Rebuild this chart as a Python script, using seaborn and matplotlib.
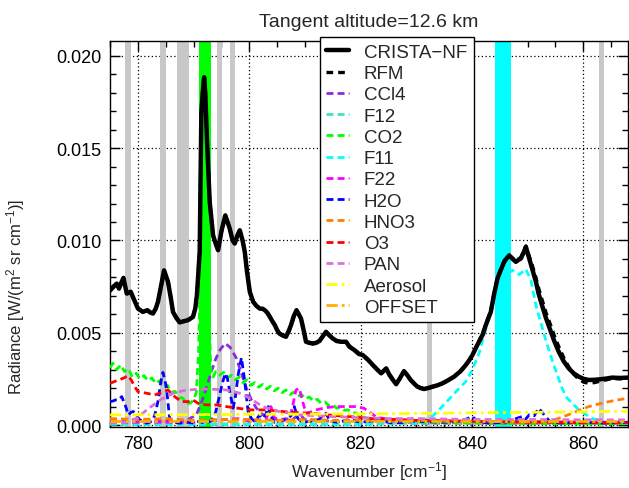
import numpy as np
import pandas as pd
import seaborn as sns
import matplotlib.pyplot as plt
from matplotlib.ticker import MultipleLocator, FormatStrFormatter

# Radiance values below are in units of 1e-3 W/(m2 sr cm-1)

crista_wn = [775.0, 775.6, 776.2, 776.6, 777.0, 777.4, 778.0, 778.7, 779.3, 780.0,
             780.9, 781.7, 782.2, 782.7, 783.2, 783.6, 784.2, 784.7, 785.4, 785.9,
             786.3, 786.9, 787.5, 788.2, 789.0, 789.9, 790.3, 790.6, 791.1, 791.4,
             791.7, 791.9, 792.1, 792.4, 792.9, 793.5, 794.0, 794.4, 795.0, 795.7,
             796.1, 796.5, 797.0, 797.4, 797.9, 798.3, 798.8, 799.2, 799.6, 800.1,
             800.7, 801.3, 801.9, 802.4, 802.8, 803.2, 803.7, 804.2, 804.6, 805.0,
             805.4, 806.0, 806.6, 807.1, 807.5, 808.0, 808.5, 808.9, 809.3, 809.8,
             810.2, 810.8, 811.4, 812.0, 812.6, 813.2, 813.8, 814.4, 815.0, 815.7,
             816.5, 817.4, 818.0, 818.9, 819.7, 820.4, 821.3, 822.2, 823.0, 823.7,
             824.2, 824.6, 825.2, 825.8, 826.4, 827.1, 827.8, 828.4, 829.0, 829.6,
             830.2, 830.8, 831.4, 832.1, 832.9, 833.8, 834.7, 835.7, 836.8, 837.9,
             838.9, 839.5, 840.1, 841.0, 841.9, 842.6, 843.4, 844.0, 844.6, 845.2,
             845.8, 846.3, 846.7, 847.3, 847.9, 848.4, 848.8, 849.3, 849.7, 850.3,
             850.9, 851.5, 852.0, 852.6, 853.3, 854.1, 854.8, 855.6, 856.5, 857.4,
             858.3, 859.2, 860.1, 861.0, 862.0, 863.1, 864.2, 865.2, 866.6, 868.0]
crista_rad = [7.30, 7.50, 7.66, 7.39, 7.70, 7.97, 7.12, 7.22, 6.80, 6.31,
              6.13, 6.22, 6.10, 6.04, 6.30, 6.67, 7.60, 8.38, 7.76, 6.90,
              6.13, 5.80, 5.56, 5.62, 5.68, 5.86, 6.30, 7.03, 9.38, 16.95,
              18.20, 18.84, 18.00, 15.50, 12.08, 10.28, 9.80, 9.47, 10.50, 11.36,
              11.00, 10.64, 10.00, 9.83, 10.30, 10.55, 10.00, 9.38, 8.30, 7.22,
              6.68, 6.45, 6.31, 6.30, 6.22, 6.10, 5.86, 5.60, 5.41, 5.15,
              4.96, 4.85, 4.78, 5.10, 5.41, 5.90, 6.22, 6.00, 5.77, 5.10,
              4.51, 4.45, 4.42, 4.45, 4.55, 4.80, 5.05, 4.85, 4.69, 4.55,
              4.51, 4.51, 4.24, 4.06, 3.85, 3.79, 3.55, 3.25, 3.00, 2.80,
              2.95, 3.07, 2.71, 2.45, 2.21, 2.55, 2.92, 2.70, 2.44, 2.25,
              2.08, 2.00, 1.95, 2.00, 2.08, 2.15, 2.26, 2.42, 2.62, 2.90,
              3.25, 3.50, 3.79, 4.35, 4.87, 5.50, 6.13, 7.10, 7.94, 8.40,
              8.84, 9.05, 9.19, 9.00, 8.84, 8.95, 9.02, 9.35, 9.65, 9.02,
              8.40, 7.76, 7.10, 6.49, 5.80, 5.14, 4.55, 3.97, 3.45, 3.07,
              2.80, 2.62, 2.50, 2.44, 2.45, 2.48, 2.52, 2.57, 2.55, 2.57]
rfm_rad = [7.25, 7.45, 7.60, 7.42, 7.65, 7.90, 7.15, 7.18, 6.78, 6.35,
           6.10, 6.18, 6.12, 6.08, 6.28, 6.70, 7.55, 8.30, 7.80, 6.95,
           6.15, 5.85, 5.60, 5.60, 5.70, 5.90, 6.35, 7.10, 9.50, 17.10,
           18.40, 18.95, 18.10, 15.60, 12.10, 10.30, 9.85, 9.50, 10.45, 11.30,
           11.05, 10.60, 10.05, 9.85, 10.25, 10.50, 10.05, 9.40, 8.35, 7.25,
           6.70, 6.42, 6.30, 6.28, 6.20, 6.12, 5.90, 5.62, 5.40, 5.18,
           4.98, 4.88, 4.80, 5.05, 5.38, 5.85, 6.18, 6.02, 5.75, 5.12,
           4.55, 4.48, 4.40, 4.42, 4.52, 4.78, 5.00, 4.88, 4.70, 4.58,
           4.50, 4.48, 4.28, 4.08, 3.88, 3.75, 3.52, 3.28, 3.02, 2.82,
           2.92, 3.05, 2.75, 2.48, 2.25, 2.52, 2.88, 2.72, 2.46, 2.28,
           2.10, 2.02, 1.97, 1.98, 2.05, 2.12, 2.24, 2.40, 2.60, 2.88,
           3.22, 3.48, 3.80, 4.38, 4.92, 5.55, 6.20, 7.15, 7.98, 8.45,
           8.90, 9.10, 9.20, 9.05, 8.90, 9.00, 9.08, 9.40, 9.70, 9.15,
           8.60, 8.00, 7.40, 6.80, 6.10, 5.45, 4.85, 4.25, 3.65, 3.15,
           2.75, 2.48, 2.32, 2.26, 2.30, 2.38, 2.45, 2.52, 2.50, 2.55]

co2_wn = [775.0, 775.5, 776.2, 776.9, 777.6, 778.3, 779.0, 779.7, 780.4, 781.1,
          781.8, 782.5, 783.2, 783.9, 784.6, 785.3, 786.0, 786.7, 787.4, 788.1,
          788.8, 789.5, 790.1, 790.5, 790.9, 791.3, 791.6, 791.9, 792.2, 792.5,
          792.8, 793.1, 793.5, 794.0, 794.7, 795.4, 796.1, 796.8, 797.5, 798.2,
          798.9, 799.6, 800.3, 801.0, 801.7, 802.4, 803.1, 803.8, 804.5, 805.2,
          805.9, 806.6, 807.3, 808.0, 808.7, 809.4, 810.1, 810.8, 811.5, 812.2,
          812.9, 813.6, 814.3, 815.0, 815.7, 816.4, 817.1, 817.8, 818.5, 819.2,
          820.0, 821.0, 822.5, 825.0, 830.0, 840.0, 850.0, 860.0, 868.0]
co2_rad = [3.10, 3.35, 3.00, 3.25, 2.90, 3.05, 2.60, 2.80, 2.50, 2.68,
           2.40, 2.55, 2.25, 2.40, 2.05, 2.15, 1.78, 1.82, 1.50, 1.45,
           1.15, 1.20, 1.40, 1.80, 4.00, 10.00, 16.00, 18.60, 17.00, 12.00,
           6.00, 3.00, 2.60, 2.90, 2.70, 2.85, 2.55, 2.70, 2.45, 2.60,
           2.30, 2.45, 2.15, 2.30, 2.05, 2.20, 1.95, 2.10, 1.85, 2.00,
           1.75, 1.90, 1.65, 1.78, 1.55, 1.65, 1.42, 1.52, 1.30, 1.40,
           1.18, 1.25, 1.05, 1.10, 0.92, 0.95, 0.80, 0.82, 0.68, 0.65,
           0.50, 0.38, 0.30, 0.22, 0.15, 0.10, 0.08, 0.07, 0.07]

ccl4_wn = [775, 778, 781, 784, 787, 789, 790.5, 791.7, 792.5, 793.2, 794.0, 794.8,
           795.7, 796.6, 797.7, 798.6, 799.5, 800.4, 801.3, 802.2, 803.1, 805,
           808, 809, 810, 815, 820, 830, 845, 868]
ccl4_rad = [0.30, 0.30, 0.25, 0.20, 0.20, 0.30, 0.55, 1.45, 2.20, 2.89, 3.60, 4.10,
            4.42, 4.20, 3.61, 2.80, 1.99, 1.35, 0.91, 0.62, 0.46, 0.30,
            0.35, 0.60, 0.30, 0.20, 0.15, 0.10, 0.10, 0.10]

f12_wn = [775, 800, 820, 835, 845, 850, 860, 868]
f12_rad = [0.05, 0.05, 0.05, 0.10, 0.15, 0.15, 0.10, 0.10]

f11_wn = [775, 800, 820, 830, 832.9, 834.5, 835.9, 837.7, 838.9, 840.1, 841.3,
          842.5, 844.0, 845.5, 846.5, 847.3, 848.5, 849.7, 850.6, 851.5, 853.0,
          854.5, 856.2, 857.0, 859.2, 861.5, 864, 868]
f11_rad = [0.05, 0.05, 0.05, 0.10, 0.47, 0.95, 1.40, 1.99, 2.35, 3.00, 3.90,
           5.20, 6.68, 7.70, 8.20, 8.38, 8.15, 8.44, 7.85, 6.49, 4.87,
           3.43, 1.99, 1.50, 0.82, 0.37, 0.15, 0.10]

f22_wn = [775, 790, 798, 800, 803, 803.9, 804.5, 806, 807.5, 808.4, 809.0, 809.6,
          810.2, 811, 812, 814, 815.6, 817.5, 819.2, 820.6, 821.9, 823, 826,
          830, 840, 850, 860, 868]
f22_rad = [0.15, 0.15, 0.35, 0.20, 0.30, 1.00, 0.40, 0.20, 0.60, 1.90, 1.99, 1.27,
           0.64, 0.70, 0.82, 0.95, 1.00, 1.00, 1.00, 0.91, 0.64, 0.40, 0.30,
           0.25, 0.20, 0.20, 0.15, 0.15]

h2o_wn = [775.0, 775.5, 776.0, 776.5, 777.1, 777.7, 778.3, 778.8, 779.2, 779.7,
          780.3, 781.0, 781.6, 782.5, 783.0, 783.6, 784.1, 784.5, 785.1, 785.7,
          786.5, 787.5, 789.0, 790.0, 791.0, 792.0, 793.0, 793.8, 794.7, 795.2,
          795.7, 796.1, 796.5, 797.1, 797.5, 798.0, 798.6, 799.2, 799.8, 800.4,
          801.0, 801.9, 802.5, 803.0, 803.4, 803.9, 804.5, 805.5, 806.5, 807.5,
          808.1, 808.7, 809.5, 811.0, 812.5, 813.8, 814.5, 816.0, 818.0, 820.0,
          823.0, 826.0, 830.0, 835.0, 838.0, 840.1, 841.0, 843.0, 846.0, 849.0,
          849.6, 850.3, 851.2, 852.0, 852.6, 853.2, 854.0, 856.0, 860.0, 864.0,
          868.0]
h2o_rad = [1.27, 1.30, 1.36, 1.36, 1.54, 1.09, 0.55, 0.70, 0.73, 0.50,
           0.30, 0.15, 0.10, 0.20, 0.50, 1.28, 2.30, 2.85, 2.08, 0.37,
           0.15, 0.10, 0.15, 0.10, 0.20, 0.10, 0.20, 0.50, 1.63, 2.30,
           2.80, 2.50, 1.81, 0.91, 1.50, 2.71, 3.65, 2.35, 0.73, 0.35,
           0.19, 0.55, 0.35, 0.60, 1.00, 0.50, 0.15, 0.20, 0.30, 0.50,
           1.00, 0.37, 0.15, 0.20, 0.30, 0.64, 0.20, 0.15, 0.30, 0.15,
           0.25, 0.10, 0.20, 0.15, 0.20, 0.46, 0.20, 0.10, 0.15, 0.46,
           0.30, 0.55, 0.50, 0.91, 0.70, 0.46, 0.20, 0.10, 0.15, 0.10,
           0.15]

hno3_wn = [775, 780, 785, 790, 795, 800, 805, 810, 815, 820, 825, 830, 835, 840,
           845, 850, 853.8, 856, 858, 861, 864, 866, 868]
hno3_rad = [0.35, 0.30, 0.35, 0.25, 0.30, 0.30, 0.25, 0.30, 0.25, 0.25, 0.20, 0.25,
            0.20, 0.20, 0.20, 0.15, 0.19, 0.40, 0.64, 1.00, 1.23, 1.35, 1.45]

o3_wn = [775, 776.5, 777.5, 778.2, 778.8, 779.4, 780, 781.6, 783, 784.2, 785.4,
         786.6, 787.8, 789, 789.9, 791.1, 792.6, 794.1, 795.9, 798, 800.1, 803.1,
         806, 808.5, 810.8, 814, 818, 822, 826, 830, 835, 840, 845, 850, 855,
         860, 868]
o3_rad = [2.26, 2.44, 2.55, 2.68, 2.44, 2.10, 1.81, 1.72, 1.63, 1.75, 1.90,
          1.54, 1.27, 1.27, 1.36, 1.12, 1.09, 1.09, 1.00, 0.91, 0.82, 0.82,
          0.73, 0.68, 0.64, 0.55, 0.46, 0.35, 0.30, 0.25, 0.22, 0.20, 0.18,
          0.15, 0.15, 0.12, 0.12]

pan_wn = [775, 778, 779.8, 781.6, 784, 786.3, 788.7, 792.3, 795.9, 798.3, 800.1,
          802.4, 805.4, 809, 815, 820, 825, 830, 840, 850, 860, 868]
pan_rad = [0.10, 0.15, 0.37, 0.82, 1.36, 1.72, 1.90, 1.95, 1.90, 1.72, 1.45,
           1.00, 0.73, 0.55, 0.46, 0.40, 0.35, 0.35, 0.30, 0.30, 0.28, 0.28]

aerosol_wn = [775, 790, 800, 820, 840, 855, 868]
aerosol_rad = [0.55, 0.56, 0.58, 0.60, 0.66, 0.70, 0.75]

offset_wn = [775, 868]
offset_rad = [0.20, 0.20]

# microwindows (wavenumber ranges) shaded in the plot
gray_windows = [(777.7, 778.7), (784.0, 785.0), (787.0, 789.1), (794.2, 795.1),
                (796.5, 797.5), (832.0, 832.8), (862.8, 863.8)]
green_window = (790.9, 793.1)
cyan_window = (844.2, 847.1)

# label, wavenumbers, radiances, colour, linewidth, dash pattern
gases = [
    ('CCl4', ccl4_wn, ccl4_rad, '#8a2be2', 2.0, (2.5, 1.5)),
    ('F12', f12_wn, f12_rad, '#40e0c0', 2.0, (2.5, 1.5)),
    ('CO2', co2_wn, co2_rad, '#00ff00', 2.0, (2.5, 1.5)),
    ('F11', f11_wn, f11_rad, '#00ffff', 2.0, (2.5, 1.5)),
    ('F22', f22_wn, f22_rad, '#ff00ff', 2.0, (2.5, 1.5)),
    ('H2O', h2o_wn, h2o_rad, '#0000ff', 2.0, (2.5, 1.5)),
    ('HNO3', hno3_wn, hno3_rad, '#ff8000', 2.0, (2.5, 1.5)),
    ('O3', o3_wn, o3_rad, '#ff0000', 2.0, (2.5, 1.5)),
    ('PAN', pan_wn, pan_rad, '#da70d6', 2.0, (2.5, 1.5)),
    ('Aerosol', aerosol_wn, aerosol_rad, '#ffff00', 2.0, (4, 1.5, 1, 1.5)),
    ('OFFSET', offset_wn, offset_rad, '#ffb000', 2.0, (4, 1.5, 1, 1.5, 1, 1.5)),
]

sns.set_style('ticks')
plt.rcParams['font.family'] = ['Liberation Sans', 'DejaVu Sans']
plt.rcParams['mathtext.fontset'] = 'custom'
plt.rcParams['mathtext.rm'] = 'Liberation Sans'
plt.rcParams['mathtext.it'] = 'Liberation Sans:italic'
plt.rcParams['mathtext.default'] = 'regular'

fig = plt.figure(figsize=(6.29, 4.89), dpi=100)
ax = fig.add_axes([0.175, 0.125, 0.823, 0.789])
ax.set_axisbelow(True)

for lo, hi in gray_windows:
    ax.axvspan(lo, hi, color='#c8c8c8', lw=0, zorder=1)
ax.axvspan(*green_window, color='#00ff00', lw=0, zorder=1)
ax.axvspan(*cyan_window, color='#00ffff', lw=0, zorder=1)

scale = 1e-3
sns.lineplot(x=crista_wn, y=np.array(crista_rad) * scale, ax=ax, color='black',
             linewidth=3.2, label='CRISTA\u2212NF', zorder=5)
sns.lineplot(x=crista_wn, y=np.array(rfm_rad) * scale, ax=ax, color='black',
             linewidth=2.4, label='RFM', zorder=6)
ax.lines[-1].set_dashes((2, 1.5))

for name, wn, rad, col, lw, dash in gases:
    sns.lineplot(x=wn, y=np.array(rad) * scale, ax=ax, color=col, linewidth=lw,
                 label=name, zorder=3)
    ax.lines[-1].set_dashes(dash)

ax.set_xlim(775, 868)
ax.set_ylim(-0.0001, 0.0208)
ax.xaxis.set_major_locator(MultipleLocator(20))
ax.xaxis.set_minor_locator(MultipleLocator(5))
ax.yaxis.set_major_locator(MultipleLocator(0.005))
ax.yaxis.set_minor_locator(MultipleLocator(0.001))
ax.yaxis.set_major_formatter(FormatStrFormatter('%.3f'))
ax.tick_params(which='both', direction='in', top=True, right=True, colors='black',
               labelsize=13)
ax.tick_params(which='major', length=7, width=1, pad=6)
ax.tick_params(which='minor', length=4, width=1)
ax.grid(True, which='major', color='black', linestyle=(0, (1, 2)), linewidth=0.9)
for s in ax.spines.values():
    s.set_color('black')
    s.set_linewidth(1)

ax.set_title('Tangent altitude=12.6 km', fontsize=14, pad=11)
ax.set_xlabel('Wavenumber [cm$^{-1}$]', fontsize=12.5)
ax.set_ylabel('Radiance [W/(m$^2$ sr cm$^{-1}$)]', fontsize=12)
ax.yaxis.set_label_coords(-0.16, 0.34)
ax.xaxis.set_label_coords(0.5, -0.083)

leg = ax.legend(loc='upper left', bbox_to_anchor=(0.405, 1.01), fontsize=13.5,
                frameon=True, fancybox=False, framealpha=1, edgecolor='black',
                labelspacing=0.22, handlelength=1.2, handletextpad=0.8,
                borderpad=0.35, borderaxespad=0)
leg.get_frame().set_linewidth(1)
leg.set_zorder(10)

fig.savefig('out.png', dpi=100)
